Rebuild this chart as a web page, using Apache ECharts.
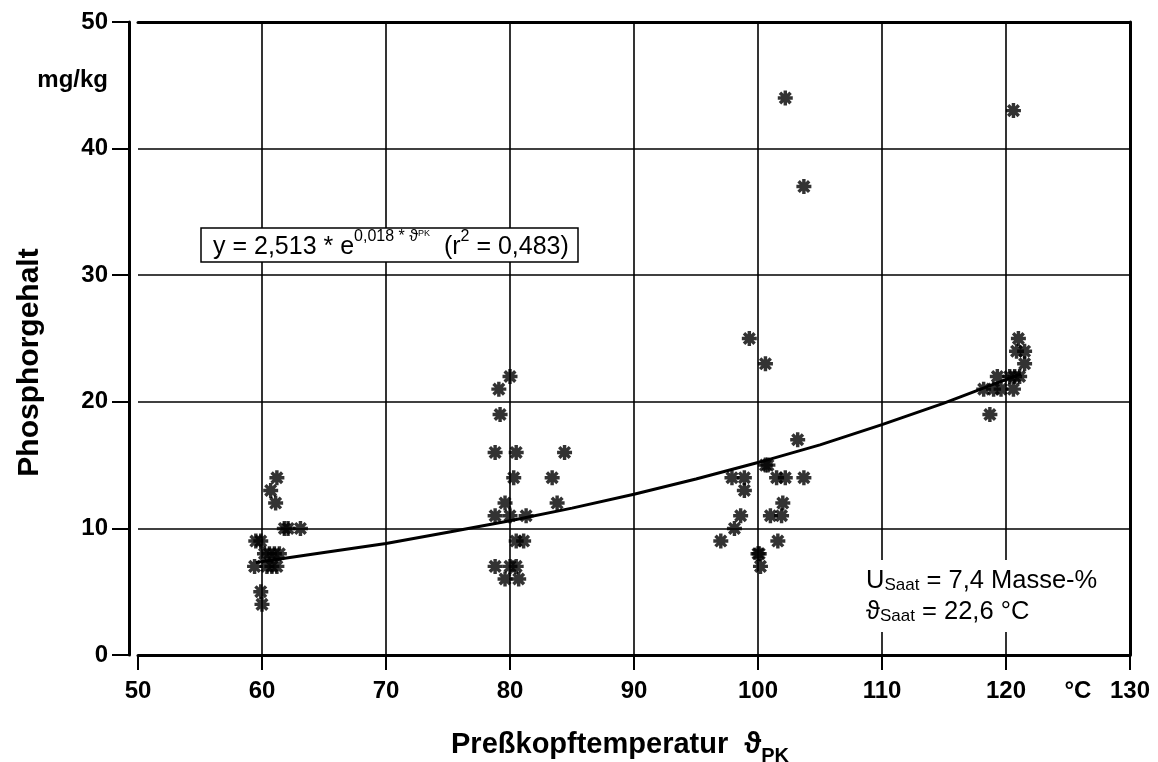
<!DOCTYPE html>
<html>
<head>
<meta charset="utf-8">
<script src="https://cdn.jsdelivr.net/npm/echarts@6/dist/echarts.min.js"></script>
<style>
  html, body { margin: 0; background: #fff; }
  #chart { width: 1158px; height: 762px; }
</style>
</head>
<body>
<div id="chart"></div>
<script>
const FONT = '"Liberation Sans", Arial, sans-serif'

// axis ticks and extra axis captions (placed at a value on the axis)
const xTickValues = [50, 60, 70, 80, 90, 100, 110, 120, 130]
const xLabelValues = [50, 60, 70, 80, 90, 100, 110, 120, 125.8, 130]
const xUnitAt = 125.8
const yTickValues = [0, 10, 20, 30, 40, 50]
const yLabelValues = [0, 10, 20, 30, 40, 45.4, 50]
const yUnitAt = 45.4

// measured points [temperature °C, phosphorus mg/kg]
const cluster60 = [
    [61.2, 14], [60.7, 13], [61.1, 12], [61.8, 10], [62.1, 10], [63.1, 10],
    [59.5, 9], [59.9, 9], [60.2, 8], [60.6, 8], [61.0, 8], [61.4, 8],
    [59.4, 7], [60.4, 7], [60.8, 7], [61.2, 7], [59.9, 5], [60.0, 4]
]
const cluster80 = [
    [80.0, 22], [79.1, 21], [79.2, 19], [78.8, 16], [80.5, 16], [84.4, 16],
    [80.3, 14], [83.4, 14], [79.6, 12], [83.8, 12], [78.8, 11], [80.0, 11],
    [81.3, 11], [80.5, 9], [81.1, 9], [78.8, 7], [80.0, 7], [80.5, 7],
    [79.6, 6], [80.7, 6]
]
const cluster100 = [
    [99.3, 25], [100.6, 23], [103.2, 17], [100.6, 15], [100.8, 15],
    [97.9, 14], [98.9, 14], [101.5, 14], [102.2, 14], [103.7, 14],
    [98.9, 13], [102.0, 12], [98.6, 11], [101.0, 11], [101.9, 11],
    [98.1, 10], [97.0, 9], [101.6, 9], [100.0, 8], [100.1, 8], [100.2, 7]
]
const cluster120 = [
    [121.0, 25], [120.85, 24], [121.5, 24], [121.5, 23], [119.3, 22],
    [120.3, 22], [120.7, 22], [121.1, 22], [118.2, 21], [119.0, 21],
    [119.6, 21], [120.6, 21], [118.7, 19]
]
const outliers = [[102.2, 44], [120.6, 43], [103.7, 37]]

// regression curve
const fitCurve = [
    [59.5, 7.3], [65, 8.1], [70, 8.8], [75, 9.7], [80, 10.6], [85, 11.6],
    [90, 12.7], [95, 13.9], [100, 15.2], [105, 16.6], [110, 18.2],
    [115, 19.9], [121.2, 22.2]
]

// 8-armed asterisk like the plotter mark
const asterisk = 'path://M7.7 0H12.3V20H7.7Z M0 7.7H20V12.3H0Z ' +
    'M4.56 1.30L18.70 15.44L15.44 18.70L1.30 4.56Z ' +
    'M18.70 4.56L4.56 18.70L1.30 15.44L15.44 1.30Z'

const chart = echarts.init(document.getElementById('chart'), null, { renderer: 'canvas' })

const hiddenAxis = {
    axisTick: { show: false },
    axisLabel: { show: false },
    splitLine: { show: false },
    axisLine: { show: true, onZero: false, lineStyle: { color: '#000', width: 3 } }
}

chart.setOption({
    backgroundColor: '#fff',
    animation: false,
    grid: { left: 138, right: 28, top: 22, bottom: 107, outerBoundsMode: 'none' },
    xAxis: [
        {
            type: 'value', min: 50, max: 130, interval: 10,
            name: '{a|Preßkopftemperatur  ϑ}{s|PK}',
            nameLocation: 'middle', nameGap: 75,
            nameTextStyle: {
                padding: [0, 28, 0, 0],
                rich: {
                    a: { fontFamily: FONT, fontWeight: 'bold', fontSize: 29, lineHeight: 36, verticalAlign: 'top', color: '#000' },
                    s: { fontFamily: FONT, fontWeight: 'bold', fontSize: 20, lineHeight: 22, verticalAlign: 'bottom', color: '#000' }
                }
            },
            axisLine: { onZero: false, lineStyle: { color: '#000', width: 3 } },
            axisTick: { customValues: xTickValues, length: 15, lineStyle: { color: '#000', width: 2 } },
            axisLabel: {
                customValues: xLabelValues, margin: 24,
                color: '#000', fontFamily: FONT, fontWeight: 'bold', fontSize: 24,
                formatter: v => (v === xUnitAt ? '°C' : String(v))
            },
            splitLine: { show: true, showMinLine: false, showMaxLine: false, lineStyle: { color: '#000', width: 1.6 } }
        },
        Object.assign({ type: 'value', min: 50, max: 130, position: 'top' }, hiddenAxis)
    ],
    yAxis: [
        {
            type: 'value', min: 0, max: 50, interval: 10, offset: 9,
            name: 'Phosphorgehalt',
            nameLocation: 'middle', nameGap: 84, nameMoveOverlap: false,
            nameTextStyle: {
                color: '#000', fontFamily: FONT, fontWeight: 'bold', fontSize: 30,
                padding: [0, 48, 0, 0]
            },
            axisLine: { onZero: false, lineStyle: { color: '#000', width: 3 } },
            axisTick: { customValues: yTickValues, length: 17, lineStyle: { color: '#000', width: 2 } },
            axisLabel: {
                customValues: yLabelValues, margin: 21,
                color: '#000', fontFamily: FONT, fontWeight: 'bold', fontSize: 24,
                formatter: v => (v === yUnitAt ? 'mg/kg' : String(v))
            },
            splitLine: { show: true, showMinLine: false, showMaxLine: false, lineStyle: { color: '#000', width: 1.6 } }
        },
        Object.assign({ type: 'value', min: 0, max: 50, position: 'right' }, hiddenAxis)
    ],
    series: [
        {
            type: 'line', data: fitCurve, symbol: 'none', smooth: false,
            lineStyle: { color: '#000', width: 3 }, z: 3
        },
        ...[cluster60, cluster80, cluster100, cluster120, outliers].map(d => ({
            type: 'scatter', data: d, symbol: asterisk, symbolSize: 15,
            itemStyle: { color: '#000' }, z: 4
        }))
    ],
    graphic: [
        {
            type: 'rect', z: 100,
            shape: { x: 201, y: 228, width: 377, height: 34 },
            style: { fill: '#fff', stroke: '#000', lineWidth: 1.5 }
        },
        {
            type: 'text', z: 101, x: 213, y: 229,
            style: {
                text: '{n|y = 2,513 * e}{s|0,018 * ϑ}{t|PK}{n|  (r}{s|2}{n| = 0,483)}',
                rich: {
                    n: { fontFamily: FONT, fontSize: 25, lineHeight: 31, verticalAlign: 'bottom', fill: '#000' },
                    s: { fontFamily: FONT, fontSize: 16, lineHeight: 17, verticalAlign: 'top', fill: '#000' },
                    t: { fontFamily: FONT, fontSize: 9, lineHeight: 24, verticalAlign: 'top', fill: '#000' }
                }
            }
        },
        {
            type: 'rect', z: 100,
            shape: { x: 858, y: 560, width: 262, height: 72 },
            style: { fill: '#fff' }
        },
        {
            type: 'text', z: 101, x: 866, y: 563,
            style: {
                text: '{n|U}{b|Saat}{n| = 7,4 Masse-%}\n{n|ϑ}{b|Saat}{n| = 22,6 °C}',
                rich: {
                    n: { fontFamily: FONT, fontSize: 25.5, lineHeight: 31, verticalAlign: 'bottom', fill: '#000' },
                    b: { fontFamily: FONT, fontSize: 17, lineHeight: 17, verticalAlign: 'bottom', fill: '#000' }
                }
            }
        }
    ]
})
</script>
</body>
</html>
